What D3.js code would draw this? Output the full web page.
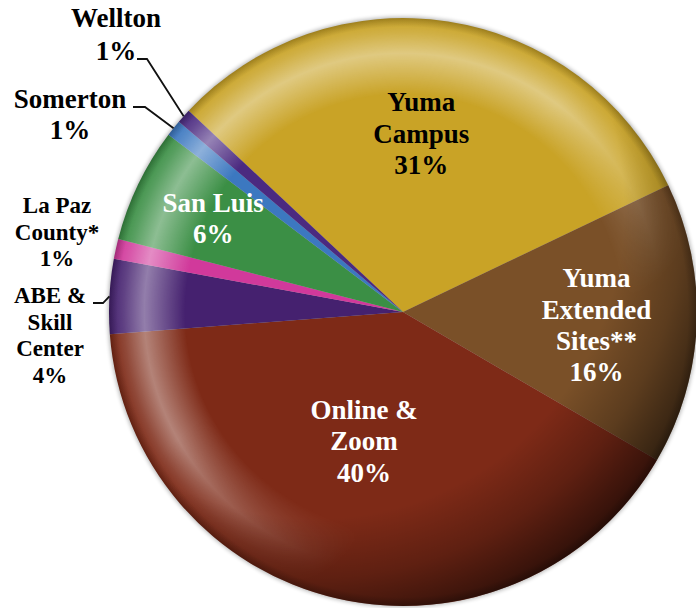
<!DOCTYPE html>
<meta charset="utf-8">
<html>
<head>
<script src="https://d3js.org/d3.v7.min.js"></script>
<style>
  body { margin: 0; background: #fff; }
  text { font-family: "Liberation Serif", "Times New Roman", serif; font-weight: bold; }
</style>
</head>
<body>
<div id="chart"></div>
<script>
// slices, clockwise starting with Yuma Campus
const categories = ["Yuma Campus", "Yuma Extended Sites**", "Online & Zoom", "ABE & Skill Center",
                    "La Paz County*", "San Luis", "Somerton", "Wellton"];
const labelLines = [["Yuma", "Campus"], ["Yuma", "Extended", "Sites**"], ["Online &", "Zoom"],
                    ["ABE &", "Skill", "Center"], ["La Paz", "County*"], ["San Luis"], ["Somerton"], ["Wellton"]];
const shares = [30.9, 15.5, 40.4, 4.1, 1.1, 6.3, 0.9, 0.8];

const colors = ["#c9a326", "#7a5028", "#7e2a17", "#45216f", "#d1399b", "#3b8f45", "#3c78c0", "#4b2a80"];

const width = 696, height = 608;
const cx = 403, cy = 312, radius = 294;
const startDeg = -46.8;

const svg = d3.select("#chart").append("svg")
    .attr("width", width)
    .attr("height", height);
const defs = svg.append("defs");

const pie = d3.pie().sort(null).value(d => d)
    .startAngle(startDeg * Math.PI / 180)
    .endAngle((startDeg + 360) * Math.PI / 180);
const arcs = pie(shares);
const arc = d3.arc().innerRadius(0).outerRadius(radius);
const rimArc = d3.arc().innerRadius(radius).outerRadius(radius);

// soft shadow under the pie
const blur = defs.append("filter").attr("id", "blur").attr("x", "-10%").attr("y", "-10%").attr("width", "120%").attr("height", "120%");
blur.append("feGaussianBlur").attr("stdDeviation", 2);

// per slice gradient (bevel near the rim)
arcs.forEach((d, i) => {
    const base = d3.color(colors[i]);
    const gr = defs.append("radialGradient").attr("id", "slice" + i)
        .attr("gradientUnits", "userSpaceOnUse")
        .attr("cx", 0).attr("cy", 0).attr("r", radius);
    [[0, base], [0.7, base], [0.97, base], [1, base.darker(0.7)]].forEach(s => {
        gr.append("stop").attr("offset", s[0]).attr("stop-color", s[1].formatHex());
    });
});

// rim highlight, faded towards bottom right by a mask
const rimLight = defs.append("radialGradient").attr("id", "rimLight")
    .attr("gradientUnits", "userSpaceOnUse").attr("cx", 0).attr("cy", 0).attr("r", radius);
[[0, 0], [0.74, 0], [0.88, 0.42], [0.95, 0.15], [1, 0]].forEach(s => {
    rimLight.append("stop").attr("offset", s[0]).attr("stop-color", "#fff").attr("stop-opacity", s[1]);
});
const lightFade = defs.append("linearGradient").attr("id", "lightFade")
    .attr("x1", 0.1).attr("y1", 0.05).attr("x2", 0.85).attr("y2", 0.9);
lightFade.append("stop").attr("offset", 0).attr("stop-color", "#fff");
lightFade.append("stop").attr("offset", 0.45).attr("stop-color", "#fff");
lightFade.append("stop").attr("offset", 0.75).attr("stop-color", "#000");
defs.append("mask").attr("id", "lightMask")
    .append("circle").attr("r", radius).attr("fill", "url(#lightFade)");

// darker rim on the right and bottom
const shade = defs.append("radialGradient").attr("id", "shade")
    .attr("gradientUnits", "userSpaceOnUse")
    .attr("cx", -0.3 * radius).attr("cy", -0.35 * radius).attr("r", 1.46 * radius);
[[0, 0], [0.72, 0], [0.86, 0.25], [1, 0.62]].forEach(s => {
    shade.append("stop").attr("offset", s[0]).attr("stop-color", "#000").attr("stop-opacity", s[1]);
});

const g = svg.append("g").attr("transform", `translate(${cx},${cy})`);

g.append("circle").attr("r", radius + 1).attr("fill", "#000").attr("opacity", 0.3).attr("filter", "url(#blur)");

g.selectAll("path.slice").data(arcs).enter().append("path")
    .attr("class", "slice")
    .attr("d", arc)
    .attr("fill", (d, i) => `url(#slice${i})`);

g.append("circle").attr("r", radius).attr("fill", "url(#rimLight)").attr("mask", "url(#lightMask)");
g.append("circle").attr("r", radius).attr("fill", "url(#shade)");

// labels inside the slices: polar placement from the slice centroid
const inside = {
    0: { rf: 0.61, da: -3.0, color: "#000" },
    1: { rf: 0.66, da: 1.6, color: "#fff" },
    2: { rf: 0.46, da: 3.8, color: "#fff" },
    5: { rf: 0.72, da: 0.5, color: "#fff" }
};
// labels outside the pie, with leader lines
const outside = {
    7: { x: 116, y: 27, lh: 33, size: 27, leader: [[137, 59], [147, 59]] },
    6: { x: 70, y: 108, lh: 31, size: 27, leader: [[133, 107], [145, 107]] },
    4: { x: 57, y: 213, lh: 26.5, size: 23 },
    3: { x: 50, y: 303, lh: 26.7, size: 23, leader: [[93, 303], [103, 303]] }
};

const pct = v => Math.round(v) + "%";

arcs.forEach((d, i) => {
    const lines = labelLines[i].concat([pct(shares[i])]);
    if (inside[i]) {
        const o = inside[i];
        const a = (d.startAngle + d.endAngle) / 2 + o.da * Math.PI / 180;
        const r = o.rf * radius;
        const x = Math.sin(a) * r, y = -Math.cos(a) * r;
        const lh = 31.3;
        const t = g.append("text")
            .attr("text-anchor", "middle")
            .attr("fill", o.color)
            .style("font-size", "27px");
        lines.forEach((s, k) => {
            t.append("tspan").attr("x", x)
                .attr("y", y + (k - (lines.length - 1) / 2) * lh + 9)
                .text(s);
        });
    } else {
        const o = outside[i];
        const t = svg.append("text")
            .attr("text-anchor", "middle")
            .attr("fill", "#000")
            .style("font-size", o.size + "px");
        lines.forEach((s, k) => {
            t.append("tspan").attr("x", o.x).attr("y", o.y + k * o.lh).text(s);
        });
        if (o.leader) {
            const p = rimArc.centroid(d);
            const pts = o.leader.concat([[p[0] + cx, p[1] + cy]]);
            svg.append("path")
                .attr("d", d3.line()(pts))
                .attr("fill", "none")
                .attr("stroke", "#111")
                .attr("stroke-width", 1.8);
        }
    }
});
</script>
</body>
</html>
